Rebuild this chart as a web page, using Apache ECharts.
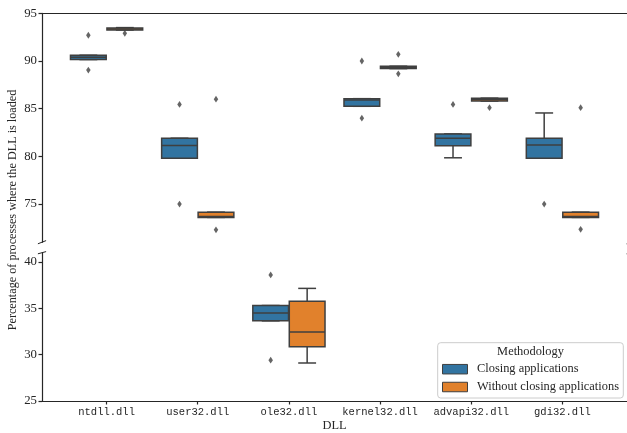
<!DOCTYPE html>
<html><head><meta charset="utf-8">
<script src="https://cdn.jsdelivr.net/npm/echarts@6/dist/echarts.min.js"></script>
<style>html,body{margin:0;padding:0;background:#fff}#c{width:627px;height:433px}</style>
</head><body><div id="c"></div>
<script>
const categories = ['ntdll.dll', 'user32.dll', 'ole32.dll', 'kernel32.dll', 'advapi32.dll', 'gdi32.dll'];
const seriesNames = ['Closing applications', 'Without closing applications'];
// each entry: [whisker low, Q1, median, Q3, whisker high]
const closingStats = [
  [90.15, 90.15, 90.4, 90.6, 90.6],
  [79.8, 79.8, 81.15, 81.9, 81.9],
  [33.65, 33.65, 34.5, 35.3, 35.3],
  [85.25, 85.25, 85.9, 86.05, 86.05],
  [79.85, 81.1, 81.9, 82.35, 82.35],
  [79.8, 79.8, 81.2, 81.9, 84.55]
];
const closingOutliers = [
  [92.7, 89.05],
  [85.45, 75.0],
  [38.6, 29.4],
  [90.0, 84.0],
  [85.45],
  [75.0]
];
const withoutStats = [
  [93.25, 93.25, 93.35, 93.45, 93.5],
  [73.6, 73.6, 73.7, 74.15, 74.15],
  [29.1, 30.85, 32.45, 35.75, 37.15],
  [89.2, 89.2, 89.3, 89.45, 89.45],
  [85.8, 85.8, 85.95, 86.1, 86.1],
  [73.6, 73.6, 73.7, 74.15, 74.15]
];
const withoutOutliers = [
  [92.9],
  [86.0, 72.3],
  [],
  [90.7, 88.65],
  [85.1],
  [85.1, 72.35]
];
const topTicks = [75, 80, 85, 90, 95];
const bottomTicks = [25, 30, 35, 40];
const topRange = [71, 95];
const bottomRange = [25, 41];
const xRange = [-0.7084, 5.7084];

const BLUE = '#3274a1', ORANGE = '#e1812c', LINE = '#3f3f3f', INK = '#262626';
const SERIF = "'Liberation Serif', 'Times New Roman', serif";
const MONO = "'Liberation Mono', 'DejaVu Sans Mono', monospace";
const DODGE = 0.2, BOXW = 0.392;

function inRange(v, r) { return v >= r[0] && v <= r[1]; }
function boxData(stats, range) {
  return stats.map((s, i) => [i].concat(s)).filter(d => inRange(d[3], range));
}
function outlierData(outs, offset, range) {
  const res = [];
  outs.forEach((list, i) => list.forEach(v => { if (inRange(v, range)) res.push([i + offset, v]); }));
  return res;
}
function makeRender(offset, fill) {
  return function (params, api) {
    const x = api.value(0);
    const unit = api.size([1, 0])[0];
    const cx = api.coord([x, api.value(3)])[0] + offset * unit;
    const half = BOXW * unit / 2, cap = half / 2;
    const y = k => api.coord([x, api.value(k)])[1];
    const yLo = y(1), yQ1 = y(2), yMed = y(3), yQ3 = y(4), yHi = y(5);
    const ls = { stroke: LINE, lineWidth: 1.5 };
    return {
      type: 'group', children: [
        { type: 'line', shape: { x1: cx, y1: yQ3, x2: cx, y2: yHi }, style: ls },
        { type: 'line', shape: { x1: cx, y1: yQ1, x2: cx, y2: yLo }, style: ls },
        { type: 'line', shape: { x1: cx - cap, y1: yHi, x2: cx + cap, y2: yHi }, style: ls },
        { type: 'line', shape: { x1: cx - cap, y1: yLo, x2: cx + cap, y2: yLo }, style: ls },
        { type: 'rect', shape: { x: cx - half, y: yQ3, width: 2 * half, height: yQ1 - yQ3 }, style: { fill: fill, stroke: LINE, lineWidth: 1.5 } },
        { type: 'line', shape: { x1: cx - half, y1: yMed, x2: cx + half, y2: yMed }, style: ls }
      ]
    };
  };
}

const grids = [
  { left: 42, top: 13.3, width: 588.7, height: 228.9 },
  { left: 42, top: 252.7, width: 588.7, height: 152 }
];
const axisLineStyle = { color: INK, width: 1.2 };

const xAxes = [
  { type: 'value', gridIndex: 0, min: xRange[0], max: xRange[1], position: 'top',
    axisLine: { show: true, onZero: false, lineStyle: axisLineStyle }, axisTick: { show: false },
    axisLabel: { show: false }, splitLine: { show: false } },
  { type: 'value', gridIndex: 1, min: xRange[0], max: xRange[1], position: 'bottom',
    name: 'DLL', nameLocation: 'middle', nameGap: 19,
    nameTextStyle: { fontFamily: SERIF, fontSize: 12.4, color: INK },
    axisLine: { show: true, onZero: false, lineStyle: axisLineStyle },
    axisTick: { show: true, length: 3.5, lineStyle: axisLineStyle, customValues: categories.map((c, i) => i) },
    axisLabel: { show: true, margin: 5.5, fontFamily: MONO, fontSize: 10.5, color: INK,
      customValues: categories.map((c, i) => i), formatter: v => categories[Math.round(v)] },
    splitLine: { show: false } }
];
function yAxisFor(idx, range, ticks) {
  return { type: 'value', gridIndex: idx, min: range[0], max: range[1], position: 'left',
    axisLine: { show: true, onZero: false, lineStyle: axisLineStyle },
    axisTick: { show: true, length: 3.5, lineStyle: axisLineStyle, customValues: ticks },
    axisLabel: { show: true, margin: 5, fontFamily: SERIF, fontSize: 12.8, color: INK, customValues: ticks },
    splitLine: { show: false } };
}
const yAxes = [yAxisFor(0, topRange, topTicks), yAxisFor(1, bottomRange, bottomTicks)];

const series = [];
[[closingStats, closingOutliers, -DODGE, BLUE, seriesNames[0]],
 [withoutStats, withoutOutliers, DODGE, ORANGE, seriesNames[1]]].forEach(([stats, outs, off, col, name]) => {
  [topRange, bottomRange].forEach((range, gi) => {
    series.push({ type: 'custom', name: name, xAxisIndex: gi, yAxisIndex: gi,
      itemStyle: { color: col }, data: boxData(stats, range),
      encode: { x: 0, y: [1, 2, 3, 4, 5] }, renderItem: makeRender(off, col), z: 2 });
    series.push({ type: 'scatter', name: name + ' outliers', xAxisIndex: gi, yAxisIndex: gi,
      data: outlierData(outs, off, range), symbol: 'diamond', symbolSize: [4.5, 6.8],
      itemStyle: { color: LINE }, z: 3, silent: true });
  });
});

function breakMark(cx, cy, dy) {
  return { type: 'line', shape: { x1: cx - 4.1, y1: cy + dy, x2: cx + 4.1, y2: cy - dy },
    style: { stroke: INK, lineWidth: 1 }, z: 10 };
}

const option = {
  backgroundColor: '#fff',
  animation: false,
  grid: grids,
  xAxis: xAxes,
  yAxis: yAxes,
  series: series,
  legend: {
    orient: 'vertical', left: 442, top: 363.2, padding: 0,
    itemWidth: 25, itemHeight: 9.5, itemGap: 5.8, icon: 'rect', z: 6,
    textStyle: { fontFamily: SERIF, fontSize: 12.4, color: INK, lineHeight: 12, padding: [0, 0, 0, 4.5] },
    data: [
      { name: seriesNames[0], itemStyle: { color: BLUE, borderColor: LINE, borderWidth: 1 } },
      { name: seriesNames[1], itemStyle: { color: ORANGE, borderColor: LINE, borderWidth: 1 } }
    ]
  },
  graphic: [
    { type: 'rect', shape: { x: 437.7, y: 342.7, width: 185.6, height: 55.3, r: 3 },
      style: { fill: 'rgba(255,255,255,0.8)', stroke: '#cccccc', lineWidth: 1 }, z: 5 },
    { type: 'text', x: 530.5, y: 352, z: 6,
      style: { text: 'Methodology', font: "12.4px " + SERIF, fill: INK, textAlign: 'center', textVerticalAlign: 'middle' } },
    { type: 'text', x: 13, y: 210, rotation: Math.PI / 2, z: 6,
      style: { text: 'Percentage of processes where the DLL is loaded', font: "12.2px " + SERIF, fill: INK,
        textAlign: 'center', textVerticalAlign: 'middle' } },
    breakMark(42, 242.2, 1.6), breakMark(42, 252.7, 1.1),
    breakMark(630.7, 242.2, 1.6), breakMark(630.7, 252.7, 1.1)
  ]
};
const chart = echarts.init(document.getElementById('c'), null, { renderer: 'canvas' });
chart.setOption(option);
</script></body></html>
